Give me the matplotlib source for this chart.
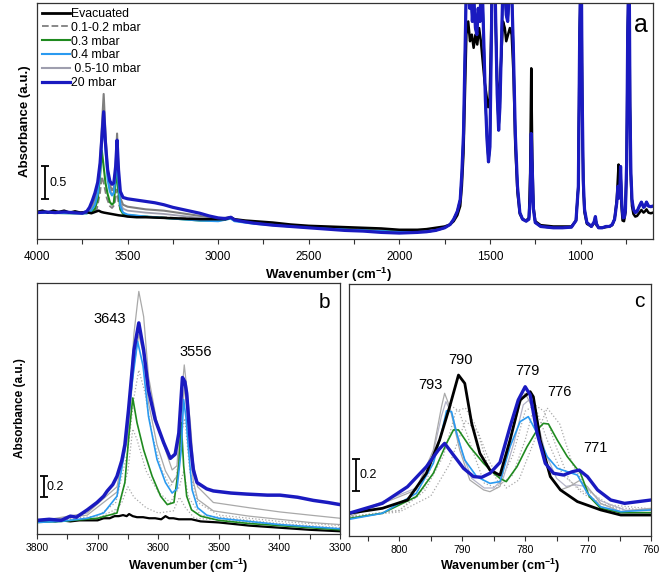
import matplotlib
matplotlib.use('Agg')
import matplotlib.pyplot as plt
import numpy as np
from matplotlib.lines import Line2D
from matplotlib.ticker import MultipleLocator

plt.rcParams['font.family'] = ['Liberation Sans', 'DejaVu Sans']
plt.rcParams['mathtext.fontset'] = 'custom'
plt.rcParams['mathtext.rm'] = 'Liberation Sans'
plt.rcParams['mathtext.bf'] = 'Liberation Sans:bold'

# ---------------- panel a : (wavenumber, absorbance) ----------------
a_black_oh = [(4000, 0.41), (3970, 0.43), (3940, 0.40), (3910, 0.43), (3880, 0.41), (3850, 0.43),
              (3820, 0.40), (3790, 0.42), (3760, 0.40), (3730, 0.41), (3700, 0.39), (3680, 0.41),
              (3660, 0.43), (3645, 0.41), (3630, 0.40), (3610, 0.39), (3590, 0.38), (3570, 0.37),
              (3550, 0.36), (3520, 0.35), (3500, 0.34), (3450, 0.33), (3400, 0.33), (3300, 0.32),
              (3200, 0.31), (3100, 0.30), (3000, 0.30), (2960, 0.30), (2930, 0.33), (2910, 0.30),
              (2850, 0.28), (2800, 0.27), (2700, 0.25), (2600, 0.22), (2500, 0.20), (2400, 0.19),
              (2300, 0.18), (2200, 0.17), (2100, 0.16), (2000, 0.14), (1900, 0.14)]
a_dash_oh = [(4000, 0.41), (3800, 0.40), (3700, 0.40), (3670, 0.45), (3652, 0.70), (3642, 0.95),
             (3632, 0.85), (3615, 0.62), (3598, 0.50), (3586, 0.47), (3572, 0.52), (3560, 0.75),
             (3550, 0.55), (3535, 0.40), (3500, 0.36), (3400, 0.34), (3300, 0.33), (3100, 0.30),
             (3000, 0.30), (2930, 0.33), (2910, 0.29), (2800, 0.26), (2600, 0.21), (2400, 0.18),
             (2200, 0.15), (2000, 0.13), (1900, 0.13)]
a_green_oh = [(4000, 0.40), (3800, 0.39), (3725, 0.39), (3700, 0.41), (3680, 0.46), (3665, 0.60),
              (3652, 0.95), (3642, 1.34), (3632, 1.10), (3622, 0.85), (3610, 0.68), (3598, 0.56),
              (3586, 0.52), (3576, 0.55), (3566, 0.85), (3560, 1.15), (3552, 0.75), (3540, 0.45),
              (3525, 0.38), (3500, 0.36), (3400, 0.34), (3300, 0.32), (3200, 0.30), (3100, 0.28),
              (3000, 0.28), (2930, 0.31), (2910, 0.28), (2800, 0.24), (2600, 0.19), (2400, 0.16),
              (2200, 0.13), (2000, 0.11), (1900, 0.11)]
a_lblue_oh = [(4000, 0.40), (3800, 0.39), (3725, 0.39), (3700, 0.43), (3680, 0.52), (3665, 0.68),
              (3652, 1.00), (3642, 1.45), (3632, 1.80), (3622, 1.35), (3610, 0.90), (3598, 0.72),
              (3586, 0.66), (3576, 0.70), (3566, 0.95), (3558, 1.33), (3550, 0.85), (3540, 0.50),
              (3525, 0.40), (3500, 0.37), (3400, 0.34), (3300, 0.32), (3200, 0.30), (3100, 0.28),
              (3000, 0.27), (2930, 0.31), (2910, 0.27), (2800, 0.23), (2600, 0.19), (2400, 0.16),
              (2200, 0.13), (2000, 0.11), (1900, 0.11)]
a_grey1_oh = [(4000, 0.41), (3900, 0.41), (3800, 0.40), (3750, 0.40), (3725, 0.41), (3710, 0.45),
              (3695, 0.52), (3680, 0.62), (3665, 0.80), (3652, 1.15), (3642, 1.70), (3632, 2.20),
              (3622, 1.60), (3610, 1.05), (3598, 0.82), (3586, 0.74), (3576, 0.78), (3566, 1.10),
              (3558, 1.60), (3550, 1.00), (3540, 0.62), (3525, 0.52), (3500, 0.49), (3450, 0.47),
              (3400, 0.45), (3350, 0.44), (3300, 0.43), (3250, 0.41), (3200, 0.39), (3100, 0.35),
              (3000, 0.31), (2930, 0.33), (2910, 0.29), (2800, 0.25), (2600, 0.20), (2400, 0.17),
              (2200, 0.14), (2000, 0.12), (1900, 0.12)]
a_grey2_oh = [(4000, 0.40), (3800, 0.40), (3725, 0.40), (3700, 0.45), (3680, 0.55), (3665, 0.70),
              (3652, 1.00), (3642, 1.50), (3632, 1.95), (3622, 1.40), (3610, 0.95), (3598, 0.75),
              (3586, 0.68), (3576, 0.70), (3566, 0.95), (3558, 1.40), (3550, 0.90), (3540, 0.55),
              (3525, 0.46), (3500, 0.43), (3400, 0.40), (3300, 0.38), (3200, 0.35), (3100, 0.32),
              (3000, 0.30), (2930, 0.33), (2910, 0.29), (2800, 0.25), (2600, 0.20), (2400, 0.17),
              (2200, 0.14), (2000, 0.12), (1900, 0.12)]
a_blue_oh = [(4000, 0.40), (3950, 0.41), (3900, 0.40), (3850, 0.41), (3800, 0.40), (3750, 0.39),
             (3725, 0.42), (3710, 0.48), (3695, 0.58), (3680, 0.70), (3665, 0.86), (3652, 1.15),
             (3642, 1.55), (3632, 1.93), (3622, 1.45), (3610, 1.05), (3598, 0.88), (3586, 0.83),
             (3576, 0.85), (3566, 1.10), (3558, 1.50), (3550, 1.05), (3540, 0.72), (3525, 0.63),
             (3500, 0.61), (3450, 0.59), (3400, 0.57), (3350, 0.55), (3300, 0.52), (3250, 0.48),
             (3200, 0.45), (3150, 0.42), (3100, 0.39), (3050, 0.35), (3000, 0.32), (2960, 0.31),
             (2930, 0.33), (2910, 0.29), (2850, 0.26), (2800, 0.24), (2700, 0.21), (2600, 0.19),
             (2500, 0.17), (2400, 0.15), (2300, 0.13), (2200, 0.12), (2100, 0.10), (2000, 0.09),
             (1900, 0.10)]
# fingerprint region 1850-600 (all spectra except evacuated nearly coincide)
a_fp_black = [(1850, 0.15), (1800, 0.17), (1750, 0.19), (1720, 0.22), (1700, 0.27), (1680, 0.36),
              (1664, 0.50), (1655, 0.80), (1646, 1.30), (1638, 2.20), (1630, 3.10), (1620, 3.30),
              (1610, 3.00), (1600, 3.10), (1590, 2.90), (1580, 3.10), (1570, 2.95), (1560, 3.20),
              (1550, 3.00), (1540, 2.70), (1530, 2.40), (1520, 2.20), (1510, 2.00), (1502, 2.10),
              (1494, 3.00), (1488, 3.90), (1472, 3.90), (1466, 3.00), (1460, 2.40), (1452, 2.10),
              (1445, 2.30), (1437, 2.80), (1428, 3.30), (1418, 3.20), (1410, 3.00), (1400, 3.10),
              (1390, 3.20), (1380, 3.10), (1370, 2.50), (1360, 1.40), (1348, 0.70), (1335, 0.38),
              (1320, 0.30), (1300, 0.28), (1285, 0.32), (1278, 1.00), (1272, 2.59), (1266, 1.20),
              (1260, 0.50), (1250, 0.27), (1220, 0.21), (1150, 0.19), (1100, 0.19), (1050, 0.19),
              (1025, 0.28), (1012, 0.80), (1005, 3.00), (1000, 3.90), (995, 3.90), (991, 2.00),
              (985, 0.80), (978, 0.40), (965, 0.23), (940, 0.19), (925, 0.24), (918, 0.30),
              (912, 0.21), (900, 0.17), (880, 0.17), (860, 0.18), (840, 0.19), (825, 0.21),
              (812, 0.30), (800, 0.60), (790, 1.13), (785, 0.80), (779, 1.02), (774, 0.50),
              (768, 0.28), (760, 0.27), (752, 0.40), (745, 1.20), (740, 3.00), (735, 3.90),
              (731, 3.90), (727, 2.00), (722, 0.90), (716, 0.50), (708, 0.38), (698, 0.34),
              (688, 0.35), (675, 0.40), (664, 0.44), (652, 0.40), (644, 0.42), (636, 0.45),
              (625, 0.40), (612, 0.39), (600, 0.40)]
a_fp_blue = [(1850, 0.11), (1800, 0.13), (1750, 0.17), (1720, 0.22), (1700, 0.30), (1680, 0.42),
             (1664, 0.60), (1655, 1.00), (1646, 1.60), (1638, 2.80), (1630, 3.90), (1620, 3.90),
             (1612, 3.50), (1605, 3.80), (1597, 3.30), (1590, 3.70), (1580, 3.20), (1572, 3.10),
             (1565, 3.50), (1555, 3.30), (1548, 3.90), (1540, 3.60), (1532, 2.80), (1525, 2.10),
             (1516, 1.50), (1508, 1.17), (1500, 1.40), (1494, 2.60), (1488, 3.90), (1472, 3.90),
             (1466, 3.00), (1460, 2.20), (1452, 1.65), (1445, 2.00), (1437, 2.90), (1428, 3.90),
             (1418, 3.80), (1410, 3.40), (1402, 3.30), (1394, 3.70), (1386, 3.90), (1378, 3.60),
             (1370, 2.80), (1360, 1.60), (1348, 0.80), (1335, 0.40), (1320, 0.30), (1300, 0.27),
             (1285, 0.30), (1278, 0.60), (1272, 1.60), (1266, 1.00), (1260, 0.45), (1250, 0.25),
             (1220, 0.19), (1150, 0.17), (1100, 0.17), (1050, 0.18), (1025, 0.28), (1012, 0.80),
             (1005, 3.00), (1000, 3.90), (995, 3.90), (991, 2.20), (985, 0.90), (978, 0.45),
             (965, 0.25), (940, 0.19), (925, 0.26), (918, 0.34), (912, 0.23), (900, 0.17),
             (880, 0.17), (860, 0.19), (840, 0.19), (825, 0.22), (812, 0.30), (800, 0.55),
             (793, 0.80), (787, 0.62), (784, 0.65), (779, 1.10), (774, 0.65), (770, 0.45),
             (765, 0.32), (758, 0.33), (752, 0.45), (745, 1.20), (740, 3.00), (735, 3.90),
             (731, 3.90), (727, 2.00), (722, 1.00), (716, 0.60), (708, 0.45), (698, 0.40),
             (688, 0.42), (675, 0.50), (664, 0.56), (652, 0.48), (644, 0.50), (636, 0.56),
             (625, 0.50), (612, 0.49), (600, 0.50)]

# ---------------- panel b : OH stretching region ----------------
b_black = [(3800, 0.13), (3790, 0.12), (3780, 0.13), (3770, 0.12), (3760, 0.13), (3745, 0.12),
           (3730, 0.13), (3715, 0.13), (3700, 0.13), (3690, 0.15), (3680, 0.15), (3672, 0.17),
           (3665, 0.17), (3658, 0.18), (3652, 0.17), (3648, 0.19), (3642, 0.17), (3635, 0.16),
           (3625, 0.16), (3615, 0.15), (3605, 0.15), (3595, 0.14), (3588, 0.17), (3582, 0.15),
           (3575, 0.15), (3566, 0.14), (3555, 0.14), (3545, 0.14), (3530, 0.12), (3500, 0.11),
           (3450, 0.08), (3400, 0.06), (3350, 0.04), (3300, 0.026)]
b_dot1 = [(3800, 0.12), (3700, 0.17), (3670, 0.30), (3650, 0.80), (3640, 1.30), (3632, 1.56),
          (3622, 1.35), (3610, 0.95), (3595, 0.62), (3580, 0.45), (3570, 0.55), (3560, 1.00),
          (3556, 1.10), (3548, 0.60), (3535, 0.30), (3500, 0.18), (3400, 0.12), (3300, 0.08)]
b_dot2 = [(3800, 0.12), (3700, 0.15), (3665, 0.25), (3650, 0.60), (3642, 1.00), (3635, 0.90),
          (3620, 0.60), (3600, 0.40), (3580, 0.30), (3565, 0.45), (3558, 0.60), (3550, 0.35),
          (3530, 0.18), (3400, 0.10), (3300, 0.06)]
b_dot3 = [(3800, 0.12), (3680, 0.15), (3660, 0.30), (3650, 0.45), (3640, 0.35), (3620, 0.25),
          (3600, 0.20), (3575, 0.22), (3565, 0.35), (3555, 0.25), (3540, 0.15), (3300, 0.05)]
b_grey1 = [(3800, 0.12), (3717, 0.20), (3668, 0.45), (3651, 0.96), (3640, 1.91), (3632, 2.31),
           (3624, 2.07), (3616, 1.50), (3602, 1.06), (3588, 0.80), (3577, 0.61), (3569, 0.65),
           (3562, 1.28), (3557, 1.61), (3553, 1.40), (3547, 1.06), (3542, 0.68), (3535, 0.45),
           (3509, 0.30), (3450, 0.25), (3399, 0.21), (3350, 0.18), (3300, 0.15)]
b_grey2 = [(3800, 0.12), (3717, 0.18), (3668, 0.40), (3651, 0.90), (3640, 1.60), (3632, 1.90),
           (3624, 1.70), (3616, 1.25), (3602, 0.85), (3588, 0.60), (3577, 0.49), (3569, 0.55),
           (3562, 1.05), (3557, 1.40), (3553, 1.20), (3547, 0.80), (3542, 0.50), (3535, 0.33),
           (3509, 0.22), (3450, 0.17), (3400, 0.14), (3350, 0.11), (3300, 0.09)]
b_green = [(3800, 0.11), (3760, 0.12), (3700, 0.15), (3668, 0.20), (3655, 0.49), (3648, 0.96),
           (3642, 1.295), (3635, 1.06), (3624, 0.80), (3610, 0.55), (3596, 0.36), (3585, 0.28),
           (3574, 0.30), (3566, 0.645), (3562, 1.06), (3558, 0.65), (3553, 0.36), (3545, 0.23),
           (3530, 0.17), (3500, 0.13), (3450, 0.10), (3400, 0.08), (3350, 0.06), (3300, 0.04)]
b_lblue = [(3800, 0.11), (3760, 0.12), (3717, 0.15), (3690, 0.20), (3668, 0.36), (3655, 0.80),
           (3643, 1.44), (3634, 1.835), (3625, 1.60), (3616, 1.12), (3602, 0.71), (3588, 0.49),
           (3577, 0.39), (3569, 0.43), (3562, 0.80), (3558, 1.28), (3554, 1.10), (3550, 0.80),
           (3544, 0.42), (3535, 0.25), (3520, 0.18), (3500, 0.15), (3450, 0.12), (3400, 0.09),
           (3350, 0.07), (3300, 0.05)]
b_blue = [(3800, 0.13), (3780, 0.14), (3760, 0.13), (3745, 0.17), (3735, 0.16), (3717, 0.23),
          (3701, 0.30), (3690, 0.36), (3684, 0.41), (3675, 0.47), (3668, 0.55), (3660, 0.70),
          (3655, 0.85), (3649, 1.18), (3640, 1.75), (3632, 2.01), (3624, 1.75), (3616, 1.37),
          (3605, 1.09), (3591, 0.87), (3580, 0.72), (3572, 0.76), (3566, 0.96), (3560, 1.49),
          (3556, 1.45), (3553, 1.34), (3547, 0.87), (3542, 0.61), (3536, 0.49), (3520, 0.43),
          (3509, 0.41), (3480, 0.39), (3454, 0.38), (3420, 0.37), (3399, 0.37), (3370, 0.35),
          (3344, 0.32), (3320, 0.30), (3300, 0.28)]
b_peaks = [3643, 3556]
b_peak_pos = [(3680, 2.05), (3538, 1.73)]

# ---------------- panel c : ring deformation region ----------------
c_black = [(808, 0.142), (802.7, 0.173), (798.7, 0.225), (795.7, 0.392), (793.6, 0.60), (792, 0.808),
           (790.6, 1.006), (789.6, 0.954), (788.5, 0.704), (787.2, 0.517), (785.6, 0.412), (784, 0.38),
           (782.4, 0.60), (780.8, 0.85), (779.2, 0.902), (778.7, 0.87), (777.6, 0.60), (776, 0.371),
           (774.4, 0.288), (771.7, 0.215), (768, 0.163), (764.8, 0.131), (760, 0.131)]
c_dot1 = [(808, 0.12), (800, 0.16), (796, 0.28), (793, 0.50), (791, 0.78), (789.5, 0.80), (788, 0.70),
          (786, 0.45), (784, 0.32), (782, 0.38), (780, 0.60), (778.5, 0.82), (777, 0.78), (775, 0.55),
          (773, 0.35), (771, 0.27), (768, 0.20), (764, 0.16), (760, 0.17)]
c_dot2 = [(808, 0.12), (800, 0.15), (795, 0.25), (792, 0.45), (789.5, 0.72), (787.5, 0.65),
          (785.5, 0.45), (783, 0.30), (781, 0.35), (779, 0.55), (776.5, 0.80), (774.5, 0.70),
          (772.5, 0.45), (770, 0.28), (766, 0.18), (760, 0.16)]
c_dot3 = [(808, 0.12), (800, 0.16), (796, 0.30), (793.5, 0.62), (792, 0.82), (790.5, 0.78),
          (788.5, 0.55), (786.5, 0.33), (784.5, 0.30), (782, 0.50), (780, 0.78), (778.5, 0.82),
          (776.5, 0.60), (774, 0.38), (771.5, 0.30), (768, 0.20), (760, 0.17)]
c_grey1 = [(808, 0.12), (797.3, 0.288), (794.6, 0.537), (793.3, 0.808), (792.8, 0.892), (792, 0.808),
           (790.4, 0.537), (788.8, 0.35), (786.6, 0.288), (785.6, 0.277), (784, 0.31), (782.4, 0.60),
           (780.8, 0.829), (780, 0.892), (778.9, 0.808), (777.6, 0.558), (776, 0.371), (774.4, 0.288),
           (773, 0.308), (771.4, 0.346), (770.1, 0.308), (768, 0.204), (764.8, 0.152), (760, 0.173)]
c_grey2 = [(808, 0.13), (797.3, 0.30), (794.6, 0.52), (793.3, 0.75), (792.6, 0.84), (791.6, 0.76),
           (790, 0.52), (788.5, 0.36), (786.5, 0.30), (785, 0.30), (783.5, 0.36), (781.8, 0.58),
           (780.3, 0.82), (779.4, 0.85), (778.2, 0.74), (776.8, 0.52), (775, 0.36), (773.5, 0.31),
           (772, 0.32), (770.5, 0.31), (768, 0.22), (764, 0.16), (760, 0.17)]
c_green = [(808, 0.11), (802.7, 0.142), (797.3, 0.246), (794.6, 0.392), (792.5, 0.579), (791.4, 0.663),
           (790.6, 0.663), (788.8, 0.558), (786.6, 0.454), (785, 0.392), (784, 0.36), (783, 0.34),
           (781.3, 0.433), (779.7, 0.558), (778.1, 0.663), (777.1, 0.704), (776.3, 0.70), (774.9, 0.60),
           (773.3, 0.496), (771.2, 0.392), (769.8, 0.246), (768, 0.173), (764.8, 0.146), (760, 0.146)]
c_lblue = [(808, 0.104), (802.7, 0.142), (797.3, 0.267), (794.6, 0.454), (793.3, 0.642), (792.5, 0.783),
           (791.7, 0.777), (790.9, 0.642), (789.6, 0.475), (787.7, 0.371), (785.6, 0.329), (784, 0.34),
           (782.4, 0.558), (780.8, 0.715), (779.5, 0.746), (778.1, 0.642), (776.5, 0.496), (774.9, 0.423),
           (773.3, 0.402), (771.7, 0.381), (770.1, 0.267), (768, 0.183), (764.8, 0.152), (760, 0.163)]
c_blue = [(808, 0.142), (802.7, 0.204), (798.7, 0.308), (795.7, 0.433), (793.8, 0.537), (792.8, 0.579),
          (791.4, 0.506), (789.8, 0.423), (788.2, 0.371), (786.9, 0.367), (785.6, 0.392), (784, 0.46),
          (782.4, 0.683), (781.1, 0.85), (780, 0.933), (779.2, 0.881), (778.1, 0.642), (776.8, 0.454),
          (775.5, 0.392), (773.9, 0.381), (772.5, 0.402), (771.4, 0.412), (770.1, 0.371), (768.5, 0.288),
          (766.4, 0.225), (764.2, 0.204), (760, 0.225)]
c_peaks = [793, 790, 779, 776, 771]
c_peak_pos = [(795.0, 0.944), (790.3, 1.10), (779.7, 1.03), (774.6, 0.897), (768.9, 0.55)]

legend_labels = ['Evacuated', '0.1-0.2 mbar', '0.3 mbar', '0.4 mbar', ' 0.5-10 mbar', '20 mbar']

C_BLACK = '#000000'
C_GREY = '#7f7f7f'
C_LGREY = '#a9a9a9'
C_GREEN = '#1f8a1f'
C_LBLUE = '#2a9af0'
C_BLUE = '#1a1ac0'


def xy(pairs):
    arr = np.array(pairs, dtype=float)
    return arr[:, 0], arr[:, 1]


def style_axes(ax, major, minor, size, pad):
    for s in ax.spines.values():
        s.set_color('#333333')
        s.set_linewidth(0.9)
    ax.set_yticks([])
    ax.xaxis.set_major_locator(MultipleLocator(major))
    ax.xaxis.set_minor_locator(MultipleLocator(minor))
    ax.tick_params(axis='x', which='both', direction='out', length=3.5, width=0.8,
                   color='#333333', labelsize=size, pad=pad)


def scale_bar(ax, x, yc, half, xt, text, size):
    ax.errorbar([x], [yc], yerr=[half], fmt='none', ecolor='k', elinewidth=1.3,
                capsize=3, capthick=1.3)
    ax.text(xt, yc, text, fontsize=size, va='center', ha='left')


fig = plt.figure(figsize=(6.61, 5.76), dpi=100)
ax_a = fig.add_axes([37 / 661, 1 - 239 / 576, 616 / 661, 236 / 576])
ax_b = fig.add_axes([37 / 661, 1 - 534 / 576, 303 / 661, 251 / 576])
ax_c = fig.add_axes([349 / 661, 1 - 536 / 576, 302 / 661, 252 / 576])

# ---- a ----
for oh, fp, col, ls, lw in [(a_grey2_oh, a_fp_blue, '#9e9eae', '-', 1.3),
                             (a_grey1_oh, a_fp_blue, C_GREY, '-', 1.5),
                             (a_dash_oh, a_fp_blue, C_GREY, '--', 1.3),
                             (a_green_oh, a_fp_blue, C_GREEN, '-', 1.5),
                             (a_lblue_oh, a_fp_blue, C_LBLUE, '-', 1.5),
                             (a_black_oh, a_fp_black, C_BLACK, '-', 1.8),
                             (a_blue_oh, a_fp_blue, C_BLUE, '-', 2.3)]:
    x, y = xy(oh + fp)
    ax_a.plot(x, y, color=col, ls=ls, lw=lw)
ax_a.set_xlim(4000, 600)
ax_a.set_ylim(0, 3.58)
style_axes(ax_a, 500, 250, 8.5, 5)
ax_a.set_xlabel(r'Wavenumber (cm$^{\mathbf{-1}}$)', fontsize=9.5, fontweight='bold')
ax_a.xaxis.set_label_coords(0.474, -0.115)
ax_a.set_ylabel('Absorbance (a.u.)', fontsize=9.5, fontweight='bold', labelpad=4)
scale_bar(ax_a, 3954, 0.856, 0.25, 3930, '0.5', 9)
ax_a.text(0.98, 0.907, 'a', transform=ax_a.transAxes, fontsize=18, ha='center', va='center')
handles = [Line2D([], [], color=C_BLACK, lw=2),
           Line2D([], [], color=C_GREY, lw=1.3, ls='--'),
           Line2D([], [], color=C_GREEN, lw=1.5),
           Line2D([], [], color=C_LBLUE, lw=1.5),
           Line2D([], [], color='#9e9eae', lw=1.5),
           Line2D([], [], color=C_BLUE, lw=2.3)]
ax_a.legend(handles, legend_labels, loc='upper left', frameon=False, fontsize=8.8,
            handlelength=2.3, handletextpad=0.1, labelspacing=0.15, borderpad=0.2,
            borderaxespad=0.2)

# ---- b ----
for data, col, ls, lw in [(b_dot3, C_LGREY, ':', 0.9), (b_dot2, C_LGREY, ':', 0.9),
                          (b_dot1, C_LGREY, ':', 0.9), (b_grey2, C_LGREY, '-', 0.9),
                          (b_grey1, C_LGREY, '-', 0.9), (b_black, C_BLACK, '-', 1.6),
                          (b_green, C_GREEN, '-', 1.2), (b_lblue, C_LBLUE, '-', 1.2),
                          (b_blue, C_BLUE, '-', 2.5)]:
    x, y = xy(data)
    ax_b.plot(x, y, color=col, ls=ls, lw=lw)
ax_b.set_xlim(3800, 3300)
ax_b.set_ylim(0, 2.39)
style_axes(ax_b, 100, 50, 7.5, 3)
ax_b.set_xlabel(r'Wavenumber (cm$^{\mathbf{-1}}$)', fontsize=9, fontweight='bold', labelpad=3)
ax_b.set_ylabel('Absorbance (a.u.)', fontsize=8.5, fontweight='bold', labelpad=8)
scale_bar(ax_b, 3788, 0.452, 0.1, 3784, '0.2', 9)
for lab, (px, py) in zip(b_peaks, b_peak_pos):
    ax_b.text(px, py, str(lab), fontsize=10.5, ha='center', va='center')
ax_b.text(0.95, 0.924, 'b', transform=ax_b.transAxes, fontsize=15, ha='center', va='center')

# ---- c ----
for data, col, ls, lw in [(c_dot3, C_LGREY, ':', 0.9), (c_dot2, C_LGREY, ':', 0.9),
                          (c_dot1, C_LGREY, ':', 0.9), (c_grey2, '#b4b4c8', '-', 0.9),
                          (c_grey1, C_LGREY, '-', 0.9), (c_green, C_GREEN, '-', 1.2),
                          (c_lblue, C_LBLUE, '-', 1.2), (c_black, C_BLACK, '-', 2.0),
                          (c_blue, C_BLUE, '-', 2.4)]:
    x, y = xy(data)
    ax_c.plot(x, y, color=col, ls=ls, lw=lw)
ax_c.set_xlim(808, 760)
ax_c.set_ylim(0, 1.575)
style_axes(ax_c, 10, 5, 7.5, 3)
ax_c.set_xlabel(r'Wavenumber (cm$^{\mathbf{-1}}$)', fontsize=9, fontweight='bold', labelpad=1)
scale_bar(ax_c, 806.9, 0.381, 0.1, 806.3, '0.2', 9)
for lab, (px, py) in zip(c_peaks, c_peak_pos):
    ax_c.text(px, py, str(lab), fontsize=10.5, ha='center', va='center')
ax_c.text(0.96, 0.929, 'c', transform=ax_c.transAxes, fontsize=15, ha='center', va='center')

fig.savefig('out.png', dpi=100)
